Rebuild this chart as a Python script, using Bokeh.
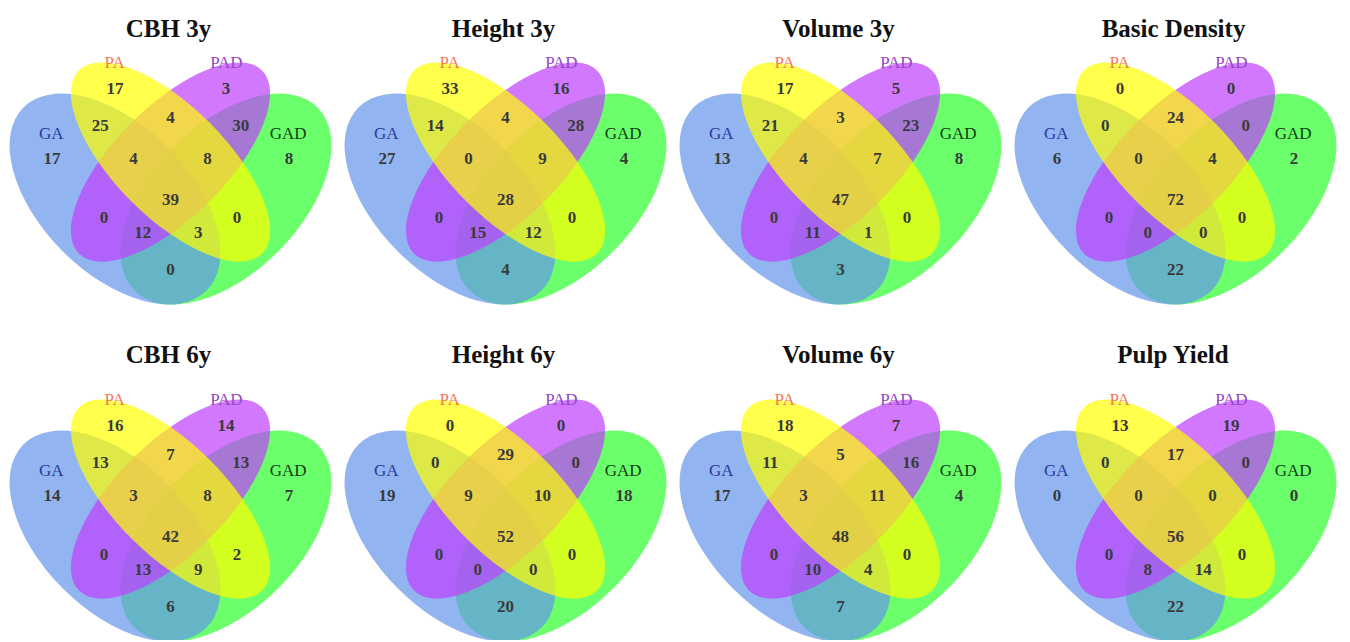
from bokeh.plotting import figure
from bokeh.models import ColumnDataSource, Range1d
from bokeh.embed import file_html
from bokeh.resources import INLINE
from bokeh.core.properties import value

# ---------------- data ----------------
titles = ["CBH 3y", "Height 3y", "Volume 3y", "Basic Density",
          "CBH 6y", "Height 6y", "Volume 6y", "Pulp Yield"]
set_names = ["GA", "PA", "PAD", "GAD"]

# region counts, order:
# PA, PA&PAD, PAD, GA&PA, GA&PA&PAD, ALL, PA&PAD&GAD, PAD&GAD,
# GA, GA&PAD, GA&PAD&GAD, GA&PA&GAD, PA&GAD, GAD, GA&GAD
cbh_3y = [17, 4, 3, 25, 4, 39, 8, 30, 17, 0, 12, 3, 0, 8, 0]
height_3y = [33, 4, 16, 14, 0, 28, 9, 28, 27, 0, 15, 12, 0, 4, 4]
volume_3y = [17, 3, 5, 21, 4, 47, 7, 23, 13, 0, 11, 1, 0, 8, 3]
basic_density = [0, 24, 0, 0, 0, 72, 4, 0, 6, 0, 0, 0, 0, 2, 22]
cbh_6y = [16, 7, 14, 13, 3, 42, 8, 13, 14, 0, 13, 9, 2, 7, 6]
height_6y = [0, 29, 0, 0, 9, 52, 10, 0, 19, 0, 0, 0, 0, 18, 20]
volume_6y = [18, 5, 7, 11, 3, 48, 11, 16, 17, 0, 10, 4, 0, 4, 7]
pulp_yield = [13, 17, 19, 0, 0, 56, 0, 0, 0, 0, 8, 14, 0, 0, 22]
panels = [cbh_3y, height_3y, volume_3y, basic_density,
          cbh_6y, height_6y, volume_6y, pulp_yield]

# ---------------- layout / style ----------------
W, H = 1342, 640
S = 370.0                      # px per venn unit
CX = [170, 505, 840, 1175]     # page x of venn unit 0.5 for each column
TOP = [62, 399]                # page y of venn unit 0.839 for each row
TITLE_BASE = [28, 354]         # page baseline of titles
TOPV = 0.839

# ellipse geometry in venn units (order of drawing: GAD, GA, PAD, PA)
ell_order = [3, 0, 2, 1]
ell_x = [0.35, 0.5, 0.5, 0.65]
ell_y = [0.47, 0.57, 0.57, 0.47]
ell_a = [0.35, 0.35, 0.35, 0.35]
ell_b = [0.20, 0.15, 0.15, 0.20]
ell_rot = [135, 135, 45, 45]
ell_fill = ["#6495ED", "#FFFF00", "#BF3EFF", "#00FF00"]
ell_alpha = [0.7, 0.7, 0.7, 0.58]

reg_u = [0.35, 0.5, 0.65, 0.31, 0.4, 0.5, 0.6, 0.69, 0.18, 0.32, 0.425, 0.575, 0.68, 0.82, 0.5]
reg_v = [0.77, 0.69, 0.77, 0.67, 0.58, 0.47, 0.58, 0.67, 0.58, 0.42, 0.38, 0.38, 0.42, 0.58, 0.28]

cat_u = [0.178, 0.349, 0.651, 0.818]
cat_v = [0.648, 0.839, 0.839, 0.648]
cat_col = ["#2b3a9c", "#f7785a", "#9448c4", "#0f3f14"]

FONT = value("Liberation Serif")

p = figure(width=W, height=H, output_backend="svg", toolbar_location=None,
           x_range=Range1d(0, W), y_range=Range1d(0, H),
           x_axis_location=None, y_axis_location=None,
           min_border=0, min_border_left=0, min_border_right=0,
           min_border_top=0, min_border_bottom=0)
p.grid.visible = False
p.outline_line_color = None
p.background_fill_color = "white"
p.border_fill_color = "white"


def to_data(r, c, u, v):
    X = CX[c] + (u - 0.5) * S
    Y = TOP[r] + (TOPV - v) * S
    return X, H - Y


for k, counts in enumerate(panels):
    r, c = divmod(k, 4)
    # ellipses
    for i in ell_order:
        x, y = to_data(r, c, ell_x[i], ell_y[i])
        p.ellipse(x=[x], y=[y], width=[2 * ell_a[i] * S], height=[2 * ell_b[i] * S],
                  angle=[ell_rot[i]], angle_units="deg",
                  fill_color=ell_fill[i], fill_alpha=ell_alpha[i], line_color=None)
    # counts
    xs, ys = [], []
    for u, v in zip(reg_u, reg_v):
        x, y = to_data(r, c, u, v)
        xs.append(x)
        ys.append(y)
    src = ColumnDataSource(dict(x=xs, y=ys, t=[str(n) for n in counts]))
    p.text(x="x", y="y", text="t", source=src, text_font=FONT,
           text_font_size="17px", text_font_style="bold", text_color="#3a3a3a",
           text_align="center", text_baseline="middle")
    # category labels
    cx_, cy_ = [], []
    for u, v in zip(cat_u, cat_v):
        x, y = to_data(r, c, u, v)
        cx_.append(x)
        cy_.append(y)
    csrc = ColumnDataSource(dict(x=cx_, y=cy_, t=set_names, col=cat_col))
    p.text(x="x", y="y", text="t", source=csrc, text_font=FONT,
           text_font_size="17px", text_color="col",
           text_align="center", text_baseline="middle")
    # title
    p.text(x=[CX[c] - 2], y=[H - TITLE_BASE[r]], text=[titles[k]],
           text_font=FONT, text_font_size="25px", text_font_style="bold",
           text_color="#111111", text_align="center", text_baseline="alphabetic")

open("out.html", "w").write(file_html(p, INLINE))
